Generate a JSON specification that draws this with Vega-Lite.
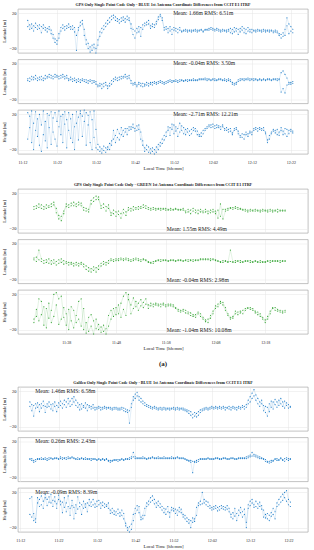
{
"$schema":"https://vega.github.io/schema/vega-lite/v6.json",
"padding":{"left":0,"top":3,"right":0,"bottom":0},
"background":"white",
"config":{
"font":"Liberation Serif",
"view":{"stroke":"#9a9a9a","strokeWidth":0.6},
"axis":{"ticks":false,"domain":false,"grid":true,"gridColor":"#e4e4e4","gridWidth":0.5,"labelOverlap":false,"labelFont":"Liberation Serif","titleFont":"Liberation Serif","labelColor":"#222","titleColor":"#222","titleFontWeight":"normal"},
"axisX":{"labelFontSize":4,"labelPadding":6,"titlePadding":1,"titleFontSize":4.8},
"axisY":{"labelFontSize":4.5,"labelPadding":2,"titleFontSize":4.5,"titlePadding":1,"minExtent":11,"maxExtent":11},
"title":{"font":"Liberation Serif","fontSize":4.1,"fontWeight":"bold","offset":1.5,"frame":"group","color":"#222"},
"point":{"filled":true,"size":1.4,"opacity":0.9,"clip":true},
"line":{"strokeWidth":0.3,"opacity":0.4,"clip":true},
"text":{"font":"Liberation Serif","fontSize":5.6,"align":"left","baseline":"middle","color":"#222"}
},
"datasets":{
"g1":[
{"t":14.5,"a":5,"A":12,"b":3,"B":1,"c":22,"C":-8},
{"t":15,"a":7,"A":2,"b":4,"B":0,"c":18,"C":5},
{"t":15.5,"a":3,"A":8,"b":2,"B":6,"c":-12,"C":24},
{"t":16,"a":6,"A":0,"b":5,"B":2,"c":10,"C":-20},
{"t":16.5,"a":4,"A":9,"b":3,"B":7,"c":23,"C":2},
{"t":17,"a":2,"A":6,"b":1,"B":4,"c":-5,"C":15},
{"t":17.5,"a":7,"A":3,"b":5,"B":2,"c":20,"C":-15},
{"t":18,"a":5,"A":-2,"b":2,"B":6,"c":8,"C":-22},
{"t":18.5,"a":3,"A":7,"b":4,"B":1,"c":24,"C":-3},
{"t":19,"a":1,"A":4,"b":3,"B":7,"c":-10,"C":12},
{"t":19.5,"a":3,"A":-1,"b":6,"B":4,"c":21,"C":-18},
{"t":20,"a":2,"A":5,"b":5,"B":8,"c":5,"C":19},
{"t":20.5,"a":-3,"A":1,"b":4,"B":7,"c":-14,"C":23},
{"t":21,"a":-8,"A":-4,"b":6,"B":3,"c":16,"C":0},
{"t":21.5,"a":-13,"A":-9,"b":8,"B":5,"c":22,"C":-8},
{"t":22,"a":-15,"A":-11,"b":5,"B":7,"c":12,"C":-16},
{"t":22.5,"a":-8,"A":-3,"b":6,"B":3,"c":24,"C":6},
{"t":23,"a":0,"A":4,"b":7,"B":4,"c":-3,"C":18},
{"t":23.5,"a":3,"A":7,"b":5,"B":8,"c":20,"C":-12},
{"t":24,"a":5,"A":1,"b":6,"B":3,"c":9,"C":23},
{"t":24.5,"a":6,"A":3,"b":4,"B":7,"c":-18,"C":14},
{"t":25,"a":4,"A":8,"b":3,"B":1,"c":22,"C":2},
{"t":25.5,"a":5,"A":2,"b":2,"B":5,"c":15,"C":-7},
{"t":26,"a":2,"A":6,"b":3,"B":0,"c":-12,"C":20},
{"t":26.5,"a":4,"A":-1,"b":1,"B":4,"c":6,"C":-20},
{"t":27,"a":-5,"A":-22,"b":2,"B":-1,"c":23,"C":10},
{"t":27.5,"a":1,"A":4,"b":0,"B":3,"c":-9,"C":17},
{"t":28,"a":10,"A":6,"b":2,"B":-1,"c":21,"C":24},
{"t":28.5,"a":12,"A":8,"b":1,"B":3,"c":18,"C":-5},
{"t":29,"a":-5,"A":2,"b":0,"B":2,"c":25,"C":12},
{"t":29.5,"a":-15,"A":-10,"b":-1,"B":2,"c":-15,"C":22},
{"t":30,"a":-20,"A":-14,"b":1,"B":-2,"c":8,"C":19},
{"t":30.5,"a":-18,"A":-24,"b":0,"B":2,"c":23,"C":-12},
{"t":31,"a":-22,"A":-16,"b":-2,"B":1,"c":14,"C":-20},
{"t":31.5,"a":-15,"A":-19,"b":1,"B":-1,"c":-6,"C":24},
{"t":32,"a":-20,"A":-25,"b":-3,"B":0,"c":-18,"C":3},
{"t":32.5,"a":-10,"A":-16,"b":-4,"B":-6,"c":-20,"C":-14},
{"t":33,"a":-6,"A":-1,"b":-5,"B":-2,"c":-22,"C":-17},
{"t":33.5,"a":-2,"A":3,"b":-3,"B":-8,"c":-19,"C":-24},
{"t":34,"a":2,"A":6,"b":-6,"B":-2,"c":-21,"C":-16},
{"t":34.5,"a":5,"A":9,"b":-4,"B":-1,"c":-23,"C":-18},
{"t":35,"a":8,"A":12,"b":-5,"B":-8,"c":-17,"C":-20},
{"t":35.5,"a":10,"A":15,"b":-2,"B":-5,"c":-20,"C":-13},
{"t":36,"a":13,"A":17,"b":1,"B":-3,"c":-10,"C":-15},
{"t":36.5,"a":15,"A":18,"b":3,"B":0,"c":-8,"C":2},
{"t":37,"a":12,"A":16,"b":2,"B":5,"c":-4,"C":-12},
{"t":37.5,"a":11,"A":14,"b":4,"B":1,"c":3,"C":-6},
{"t":38,"a":13,"A":9,"b":5,"B":2,"c":-2,"C":-9},
{"t":38.5,"a":15,"A":11,"b":3,"B":6,"c":5,"C":-3},
{"t":39,"a":12,"A":16,"b":6,"B":4,"c":-5,"C":2},
{"t":39.5,"a":14,"A":10,"b":5,"B":8,"c":0,"C":4},
{"t":40,"a":17,"A":13,"b":6,"B":3,"c":4,"C":-3},
{"t":40.5,"a":12,"A":15,"b":4,"B":7,"c":2,"C":6},
{"t":41,"a":8,"A":3,"b":1,"B":-2,"c":6,"C":3},
{"t":41.5,"a":2,"A":-4,"b":-2,"B":-4,"c":5,"C":9},
{"t":42,"a":0,"A":-8,"b":-3,"B":-1,"c":4,"C":1},
{"t":42.5,"a":3,"A":-2,"b":-4,"B":-6,"c":7,"C":2},
{"t":43,"a":-1,"A":5,"b":-3,"B":-1,"c":3,"C":8},
{"t":43.5,"a":4,"A":-6,"b":-5,"B":-2,"c":-8,"C":0},
{"t":44,"a":2,"A":7,"b":-2,"B":-6,"c":-15,"C":-10},
{"t":44.5,"a":6,"A":9,"b":-3,"B":-5,"c":-18,"C":-22},
{"t":45,"a":10,"A":7,"b":-4,"B":-1,"c":-20,"C":-15},
{"t":45.5,"a":12,"A":8,"b":-2,"B":-5,"c":-23,"C":-17},
{"t":46,"a":6,"A":3,"b":-3,"B":-1,"c":-19,"C":-24},
{"t":46.5,"a":5,"A":8,"b":-1,"B":-4,"c":-22,"C":-18},
{"t":47,"a":4,"A":7,"b":-2,"B":0,"c":-25,"C":-20},
{"t":47.5,"a":8,"A":11,"b":-1,"B":-3,"c":-17,"C":-23},
{"t":48,"a":13,"A":16,"b":0,"B":-2,"c":-20,"C":-14},
{"t":48.5,"a":17,"A":19,"b":-1,"B":1,"c":-12,"C":-16},
{"t":49,"a":12,"A":15,"b":-2,"B":0,"c":-8,"C":-13},
{"t":49.5,"a":4,"A":1,"b":-1,"B":-3,"c":-4,"C":-9},
{"t":50,"a":2,"A":5,"b":0,"B":-2,"c":0,"C":-5},
{"t":50.5,"a":3,"A":-2,"b":1,"B":-1,"c":2,"C":6},
{"t":51,"a":0,"A":5,"b":0,"B":2,"c":5,"C":-4},
{"t":51.5,"a":2,"A":-4,"b":-1,"B":1,"c":3,"C":9},
{"t":52,"a":4,"A":1,"b":1,"B":0,"c":8,"C":-2},
{"t":52.5,"a":0,"A":3,"b":0,"B":2,"c":1,"C":6},
{"t":53,"a":-2,"A":2,"b":1,"B":-1,"c":4,"C":-5},
{"t":53.5,"a":1,"A":4,"b":2,"B":0,"c":10,"C":0},
{"t":54,"a":0,"A":-1,"b":1,"B":2,"c":2,"C":7},
{"t":54.5,"a":1,"A":0,"b":0,"B":1,"c":-2,"C":5},
{"t":55,"a":0,"A":2,"b":1,"B":2,"c":3,"C":-3},
{"t":55.5,"a":1,"A":-1,"b":2,"B":0,"c":0,"C":4},
{"t":56,"a":0,"A":1,"b":1,"B":2,"c":-4,"C":1},
{"t":56.5,"a":-1,"A":1,"b":2,"B":1,"c":-2,"C":3},
{"t":57,"a":1,"A":0,"b":1,"B":3,"c":2,"C":5},
{"t":57.5,"a":0,"A":2,"b":2,"B":1,"c":4,"C":1},
{"t":58,"a":1,"A":-1,"b":1,"B":2,"c":1,"C":-3},
{"t":58.5,"a":0,"A":1,"b":2,"B":3,"c":-3,"C":-5},
{"t":59,"a":1,"A":2,"b":2,"B":3,"c":-5,"C":-1},
{"t":59.5,"a":0,"A":-1,"b":3,"B":2,"c":-2,"C":2},
{"t":60,"a":1,"A":2,"b":2,"B":4,"c":2,"C":4},
{"t":60.5,"a":2,"A":1,"b":3,"B":1,"c":4,"C":6},
{"t":61,"a":3,"A":1,"b":2,"B":3,"c":6,"C":8},
{"t":61.5,"a":2,"A":4,"b":1,"B":2,"c":8,"C":5},
{"t":62,"a":1,"A":3,"b":2,"B":3,"c":9,"C":6},
{"t":62.5,"a":2,"A":0,"b":1,"B":3,"c":7,"C":4},
{"t":63,"a":1,"A":3,"b":2,"B":1,"c":8,"C":5},
{"t":63.5,"a":0,"A":2,"b":2,"B":3,"c":5,"C":7},
{"t":64,"a":1,"A":-1,"b":3,"B":2,"c":3,"C":6},
{"t":64.5,"a":0,"A":2,"b":2,"B":1,"c":6,"C":8},
{"t":65,"a":1,"A":0,"b":1,"B":3,"c":4,"C":2},
{"t":65.5,"a":-1,"A":1,"b":2,"B":0,"c":2,"C":5},
{"t":66,"a":0,"A":2,"b":1,"B":3,"c":3,"C":0},
{"t":66.5,"a":3,"A":-2,"b":2,"B":0,"c":4,"C":1},
{"t":67,"a":-3,"A":2,"b":-1,"B":-3,"c":-1,"C":-3},
{"t":67.5,"a":4,"A":-1,"b":-2,"B":-4,"c":2,"C":4},
{"t":68,"a":0,"A":3,"b":-3,"B":-1,"c":3,"C":5},
{"t":68.5,"a":-4,"A":2,"b":0,"B":2,"c":1,"C":-2},
{"t":69,"a":3,"A":-1,"b":1,"B":3,"c":-4,"C":-6},
{"t":69.5,"a":1,"A":5,"b":2,"B":3,"c":-6,"C":-2},
{"t":70,"a":-2,"A":3,"b":3,"B":1,"c":-8,"C":-3},
{"t":70.5,"a":2,"A":-3,"b":2,"B":3,"c":-3,"C":0},
{"t":71,"a":4,"A":0,"b":2,"B":4,"c":-2,"C":-5},
{"t":71.5,"a":-1,"A":2,"b":3,"B":1,"c":-1,"C":1},
{"t":72,"a":2,"A":-2,"b":2,"B":3,"c":0,"C":-3},
{"t":72.5,"a":0,"A":1,"b":1,"B":3,"c":2,"C":4},
{"t":73,"a":1,"A":-1,"b":3,"B":2,"c":3,"C":5},
{"t":73.5,"a":0,"A":2,"b":2,"B":1,"c":1,"C":4},
{"t":74,"a":1,"A":0,"b":2,"B":3,"c":3,"C":5},
{"t":74.5,"a":-1,"A":1,"b":1,"B":2,"c":4,"C":2},
{"t":75,"a":0,"A":2,"b":3,"B":2,"c":2,"C":5},
{"t":75.5,"a":1,"A":-1,"b":2,"B":1,"c":0,"C":-2},
{"t":76,"a":0,"A":1,"b":2,"B":3,"c":-9,"C":-12},
{"t":76.5,"a":-1,"A":1,"b":3,"B":2,"c":-8,"C":-4},
{"t":77,"a":1,"A":0,"b":2,"B":1,"c":-2,"C":0},
{"t":77.5,"a":0,"A":-2,"b":3,"B":2,"c":1,"C":3},
{"t":78,"a":-1,"A":1,"b":2,"B":3,"c":2,"C":-1},
{"t":78.5,"a":-2,"A":0,"b":3,"B":1,"c":-3,"C":3},
{"t":79,"a":-5,"A":-3,"b":2,"B":3,"c":0,"C":-4},
{"t":79.5,"a":-8,"A":-4,"b":10,"B":-12,"c":2,"C":5},
{"t":80,"a":-6,"A":-2,"b":12,"B":-8,"c":-3,"C":1},
{"t":80.5,"a":2,"A":-5,"b":8,"B":-13,"c":4,"C":-2},
{"t":81,"a":15,"A":6,"b":4,"B":-4,"c":3,"C":-5},
{"t":81.5,"a":8,"A":-3,"b":-1,"B":-3,"c":-2,"C":2},
{"t":82,"a":5,"A":0,"b":-3,"B":-1,"c":1,"C":3},
{"t":82.5,"a":2,"A":-2,"b":-2,"B":0,"c":-1,"C":1}
],
"g2":[
{"t":31.5,"a":5,"A":2,"b":2,"B":4,"c":-8,"C":-12},
{"t":32,"a":6,"A":3,"b":0,"B":5,"c":-5,"C":3},
{"t":32.5,"a":4,"A":8,"b":13,"B":2,"c":15,"C":-10},
{"t":33,"a":7,"A":3,"b":3,"B":0,"c":12,"C":-3},
{"t":33.5,"a":5,"A":2,"b":1,"B":-2,"c":-15,"C":6},
{"t":34,"a":3,"A":7,"b":2,"B":-1,"c":4,"C":-18},
{"t":34.5,"a":6,"A":4,"b":-2,"B":3,"c":-7,"C":10},
{"t":35,"a":8,"A":5,"b":1,"B":-3,"c":2,"C":-12},
{"t":35.5,"a":10,"A":7,"b":-2,"B":2,"c":20,"C":-5},
{"t":36,"a":-2,"A":3,"b":0,"B":-4,"c":22,"C":8},
{"t":36.5,"a":-9,"A":-5,"b":2,"B":-2,"c":15,"C":-14},
{"t":37,"a":-6,"A":-11,"b":-1,"B":3,"c":18,"C":-8},
{"t":37.5,"a":0,"A":-3,"b":1,"B":-3,"c":-6,"C":5},
{"t":38,"a":5,"A":8,"b":-2,"B":0,"c":-15,"C":-2},
{"t":38.5,"a":7,"A":4,"b":-1,"B":-4,"c":3,"C":-20},
{"t":39,"a":9,"A":6,"b":-3,"B":-1,"c":-10,"C":6},
{"t":39.5,"a":6,"A":10,"b":-2,"B":-5,"c":-18,"C":2},
{"t":40,"a":8,"A":5,"b":-4,"B":-1,"c":-4,"C":-12},
{"t":40.5,"a":10,"A":7,"b":-2,"B":-5,"c":12,"C":-8},
{"t":41,"a":6,"A":9,"b":-3,"B":-1,"c":15,"C":-16},
{"t":41.5,"a":1,"A":4,"b":-6,"B":-3,"c":-20,"C":4},
{"t":42,"a":0,"A":3,"b":-9,"B":-5,"c":-12,"C":-24},
{"t":42.5,"a":2,"A":-1,"b":-11,"B":-7,"c":-22,"C":-6},
{"t":43,"a":12,"A":8,"b":-8,"B":-12,"c":-16,"C":-3},
{"t":43.5,"a":15,"A":11,"b":-10,"B":-6,"c":-25,"C":-10},
{"t":44,"a":17,"A":13,"b":-7,"B":-12,"c":-8,"C":-19},
{"t":44.5,"a":13,"A":16,"b":-9,"B":-5,"c":-20,"C":-14},
{"t":45,"a":6,"A":3,"b":-5,"B":-2,"c":-17,"C":-23},
{"t":45.5,"a":8,"A":4,"b":-3,"B":0,"c":-22,"C":-15},
{"t":46,"a":5,"A":0,"b":-1,"B":-4,"c":-19,"C":-25},
{"t":46.5,"a":3,"A":7,"b":-2,"B":1,"c":-4,"C":-16},
{"t":47,"a":-2,"A":-5,"b":1,"B":3,"c":2,"C":-8},
{"t":47.5,"a":-3,"A":1,"b":2,"B":0,"c":-5,"C":4},
{"t":48,"a":-6,"A":-1,"b":3,"B":1,"c":5,"C":-3},
{"t":48.5,"a":0,"A":-4,"b":1,"B":3,"c":-2,"C":8},
{"t":49,"a":-3,"A":-8,"b":2,"B":4,"c":10,"C":-6},
{"t":49.5,"a":2,"A":-2,"b":3,"B":1,"c":18,"C":3},
{"t":50,"a":-1,"A":-5,"b":2,"B":4,"c":22,"C":-4},
{"t":50.5,"a":1,"A":4,"b":1,"B":3,"c":14,"C":20},
{"t":51,"a":3,"A":0,"b":2,"B":0,"c":8,"C":-2},
{"t":51.5,"a":1,"A":5,"b":3,"B":1,"c":16,"C":4},
{"t":52,"a":4,"A":2,"b":2,"B":4,"c":6,"C":12},
{"t":52.5,"a":2,"A":5,"b":1,"B":3,"c":10,"C":2},
{"t":53,"a":5,"A":3,"b":2,"B":0,"c":14,"C":7},
{"t":53.5,"a":7,"A":4,"b":3,"B":2,"c":5,"C":11},
{"t":54,"a":3,"A":6,"b":1,"B":2,"c":9,"C":15},
{"t":54.5,"a":2,"A":4,"b":-1,"B":0,"c":8,"C":4},
{"t":55,"a":1,"A":3,"b":-1,"B":-2,"c":7,"C":10},
{"t":55.5,"a":2,"A":4,"b":0,"B":-2,"c":9,"C":6},
{"t":56,"a":3,"A":1,"b":0,"B":1,"c":8,"C":10},
{"t":56.5,"a":2,"A":3,"b":1,"B":2,"c":7,"C":9},
{"t":57,"a":1,"A":3,"b":0,"B":2,"c":9,"C":6},
{"t":57.5,"a":2,"A":3,"b":1,"B":2,"c":8,"C":10},
{"t":58,"a":3,"A":1,"b":2,"B":1,"c":6,"C":8},
{"t":58.5,"a":2,"A":1,"b":1,"B":0,"c":7,"C":9},
{"t":59,"a":1,"A":3,"b":1,"B":2,"c":9,"C":7},
{"t":59.5,"a":2,"A":1,"b":2,"B":1,"c":8,"C":6},
{"t":60,"a":3,"A":2,"b":1,"B":0,"c":5,"C":4},
{"t":60.5,"a":1,"A":2,"b":1,"B":2,"c":3,"C":1},
{"t":61,"a":2,"A":1,"b":2,"B":1,"c":2,"C":0},
{"t":61.5,"a":1,"A":3,"b":1,"B":0,"c":1,"C":3},
{"t":62,"a":0,"A":-2,"b":1,"B":2,"c":-1,"C":2},
{"t":62.5,"a":2,"A":-1,"b":0,"B":2,"c":-2,"C":0},
{"t":63,"a":-3,"A":1,"b":1,"B":2,"c":-4,"C":-1},
{"t":63.5,"a":0,"A":3,"b":2,"B":0,"c":-5,"C":-3},
{"t":64,"a":-2,"A":1,"b":1,"B":2,"c":-3,"C":-6},
{"t":64.5,"a":1,"A":-3,"b":2,"B":1,"c":0,"C":-2},
{"t":65,"a":-1,"A":2,"b":3,"B":2,"c":-2,"C":-5},
{"t":65.5,"a":0,"A":-2,"b":2,"B":3,"c":-6,"C":-8},
{"t":66,"a":2,"A":-1,"b":3,"B":2,"c":-9,"C":-11},
{"t":66.5,"a":-3,"A":0,"b":2,"B":3,"c":-12,"C":-8},
{"t":67,"a":1,"A":-2,"b":3,"B":1,"c":-4,"C":-7},
{"t":67.5,"a":-1,"A":2,"b":2,"B":3,"c":1,"C":-2},
{"t":68,"a":0,"A":-3,"b":1,"B":2,"c":4,"C":7},
{"t":68.5,"a":-8,"A":1,"b":0,"B":1,"c":9,"C":6},
{"t":69,"a":8,"A":-6,"b":0,"B":-1,"c":12,"C":10},
{"t":69.5,"a":-9,"A":2,"b":1,"B":-1,"c":8,"C":11},
{"t":70,"a":0,"A":2,"b":0,"B":1,"c":2,"C":5},
{"t":70.5,"a":1,"A":3,"b":-1,"B":0,"c":-4,"C":-2},
{"t":71,"a":3,"A":4,"b":13,"B":0,"c":-8,"C":-6},
{"t":71.5,"a":4,"A":2,"b":0,"B":-1,"c":-5,"C":-7},
{"t":72,"a":3,"A":5,"b":1,"B":-1,"c":-2,"C":1},
{"t":72.5,"a":4,"A":2,"b":0,"B":1,"c":0,"C":-3},
{"t":73,"a":2,"A":3,"b":-1,"B":1,"c":1,"C":-1},
{"t":73.5,"a":1,"A":2,"b":0,"B":-1,"c":-2,"C":2},
{"t":74,"a":0,"A":2,"b":1,"B":0,"c":2,"C":4},
{"t":74.5,"a":1,"A":-1,"b":0,"B":1,"c":4,"C":5},
{"t":75,"a":0,"A":2,"b":-1,"B":1,"c":5,"C":3},
{"t":75.5,"a":1,"A":0,"b":0,"B":-1,"c":2,"C":4},
{"t":76,"a":2,"A":0,"b":1,"B":0,"c":1,"C":-1},
{"t":76.5,"a":0,"A":1,"b":0,"B":-1,"c":-3,"C":0},
{"t":77,"a":1,"A":-1,"b":-1,"B":1,"c":-2,"C":-5},
{"t":77.5,"a":0,"A":2,"b":0,"B":-1,"c":-8,"C":-6},
{"t":78,"a":1,"A":0,"b":-1,"B":0,"c":-12,"C":-9},
{"t":78.5,"a":-1,"A":1,"b":0,"B":1,"c":-5,"C":-8},
{"t":79,"a":0,"A":2,"b":1,"B":-1,"c":1,"C":-2},
{"t":79.5,"a":1,"A":-1,"b":0,"B":1,"c":4,"C":5},
{"t":80,"a":0,"A":1,"b":1,"B":0,"c":5,"C":2},
{"t":80.5,"a":2,"A":-1,"b":0,"B":1,"c":3,"C":1},
{"t":81,"a":0,"A":1,"b":1,"B":-1,"c":0,"C":2},
{"t":81.5,"a":1,"A":0,"b":0,"B":1,"c":-1,"C":1},
{"t":82,"a":0,"A":1,"b":1,"B":0,"c":0,"C":2}
],
"g3":[
{"t":14.5,"a":3,"A":8,"b":0,"B":1,"c":13,"C":-5},
{"t":15,"a":-2,"A":5,"b":-1,"B":1,"c":15,"C":-8},
{"t":15.5,"a":4,"A":-8,"b":-3,"B":-1,"c":-12,"C":-4},
{"t":16,"a":6,"A":1,"b":-2,"B":0,"c":-10,"C":-14},
{"t":16.5,"a":2,"A":7,"b":0,"B":1,"c":8,"C":14},
{"t":17,"a":5,"A":-3,"b":1,"B":0,"c":12,"C":4},
{"t":17.5,"a":1,"A":6,"b":0,"B":2,"c":16,"C":6},
{"t":18,"a":4,"A":9,"b":1,"B":0,"c":10,"C":2},
{"t":18.5,"a":-4,"A":3,"b":0,"B":2,"c":14,"C":18},
{"t":19,"a":6,"A":2,"b":1,"B":-1,"c":5,"C":12},
{"t":19.5,"a":3,"A":8,"b":2,"B":0,"c":9,"C":15},
{"t":20,"a":0,"A":5,"b":1,"B":2,"c":18,"C":8},
{"t":20.5,"a":6,"A":-2,"b":0,"B":1,"c":4,"C":11},
{"t":21,"a":3,"A":8,"b":2,"B":1,"c":10,"C":15},
{"t":21.5,"a":-3,"A":4,"b":1,"B":2,"c":7,"C":2},
{"t":22,"a":7,"A":2,"b":0,"B":1,"c":12,"C":17},
{"t":22.5,"a":4,"A":9,"b":1,"B":3,"c":6,"C":10},
{"t":23,"a":1,"A":6,"b":2,"B":0,"c":9,"C":-3},
{"t":23.5,"a":5,"A":10,"b":1,"B":2,"c":3,"C":14},
{"t":24,"a":2,"A":8,"b":0,"B":2,"c":8,"C":-2},
{"t":24.5,"a":6,"A":12,"b":1,"B":3,"c":16,"C":4},
{"t":25,"a":9,"A":3,"b":2,"B":1,"c":2,"C":-6},
{"t":25.5,"a":12,"A":5,"b":3,"B":2,"c":5,"C":11},
{"t":26,"a":8,"A":14,"b":2,"B":1,"c":-10,"C":3},
{"t":26.5,"a":4,"A":10,"b":1,"B":0,"c":6,"C":-4},
{"t":27,"a":2,"A":7,"b":0,"B":2,"c":1,"C":15},
{"t":27.5,"a":5,"A":-1,"b":1,"B":0,"c":4,"C":8},
{"t":28,"a":0,"A":6,"b":2,"B":1,"c":-5,"C":6},
{"t":28.5,"a":4,"A":2,"b":1,"B":0,"c":10,"C":2},
{"t":29,"a":1,"A":7,"b":0,"B":2,"c":3,"C":7},
{"t":29.5,"a":5,"A":-2,"b":1,"B":0,"c":8,"C":-2},
{"t":30,"a":2,"A":4,"b":0,"B":1,"c":5,"C":12},
{"t":30.5,"a":3,"A":0,"b":1,"B":-1,"c":9,"C":4},
{"t":31,"a":1,"A":5,"b":0,"B":1,"c":12,"C":6},
{"t":31.5,"a":2,"A":-1,"b":1,"B":0,"c":7,"C":3},
{"t":32,"a":0,"A":2,"b":-1,"B":0,"c":4,"C":10},
{"t":32.5,"a":1,"A":3,"b":0,"B":1,"c":6,"C":11},
{"t":33,"a":2,"A":-1,"b":-1,"B":0,"c":8,"C":2},
{"t":33.5,"a":0,"A":2,"b":0,"B":1,"c":5,"C":9},
{"t":34,"a":1,"A":3,"b":-1,"B":0,"c":3,"C":7},
{"t":34.5,"a":2,"A":0,"b":0,"B":1,"c":6,"C":4},
{"t":35,"a":1,"A":2,"b":-2,"B":-1,"c":2,"C":8},
{"t":35.5,"a":0,"A":2,"b":-3,"B":-1,"c":0,"C":-4},
{"t":36,"a":1,"A":-1,"b":-1,"B":-2,"c":-3,"C":2},
{"t":36.5,"a":2,"A":0,"b":0,"B":-1,"c":-5,"C":-1},
{"t":37,"a":0,"A":2,"b":-1,"B":0,"c":-2,"C":-6},
{"t":37.5,"a":1,"A":-1,"b":0,"B":-2,"c":1,"C":-4},
{"t":38,"a":-1,"A":1,"b":-1,"B":0,"c":-3,"C":-7},
{"t":38.5,"a":0,"A":2,"b":0,"B":1,"c":-6,"C":0},
{"t":39,"a":-2,"A":1,"b":-1,"B":0,"c":-10,"C":-4},
{"t":39.5,"a":-3,"A":0,"b":0,"B":1,"c":-15,"C":-18},
{"t":40,"a":-1,"A":-4,"b":1,"B":0,"c":-20,"C":-23},
{"t":40.5,"a":-16,"A":-2,"b":0,"B":2,"c":-25,"C":-19},
{"t":41,"a":2,"A":6,"b":3,"B":1,"c":-22,"C":-16},
{"t":41.5,"a":10,"A":14,"b":8,"B":3,"c":-12,"C":-5},
{"t":42,"a":17,"A":12,"b":3,"B":1,"c":-4,"C":2},
{"t":42.5,"a":19,"A":15,"b":2,"B":1,"c":0,"C":5},
{"t":43,"a":14,"A":10,"b":1,"B":2,"c":4,"C":-3},
{"t":43.5,"a":12,"A":8,"b":2,"B":1,"c":-8,"C":-11},
{"t":44,"a":9,"A":6,"b":1,"B":3,"c":-10,"C":-6},
{"t":44.5,"a":7,"A":4,"b":2,"B":1,"c":-6,"C":2},
{"t":45,"a":5,"A":3,"b":1,"B":0,"c":4,"C":8},
{"t":45.5,"a":4,"A":2,"b":2,"B":1,"c":10,"C":6},
{"t":46,"a":3,"A":1,"b":1,"B":2,"c":14,"C":9},
{"t":46.5,"a":2,"A":0,"b":2,"B":3,"c":16,"C":11},
{"t":47,"a":1,"A":3,"b":1,"B":2,"c":12,"C":7},
{"t":47.5,"a":0,"A":2,"b":2,"B":1,"c":8,"C":3},
{"t":48,"a":1,"A":-1,"b":1,"B":3,"c":5,"C":10},
{"t":48.5,"a":0,"A":2,"b":2,"B":1,"c":3,"C":7},
{"t":49,"a":-1,"A":1,"b":1,"B":2,"c":0,"C":4},
{"t":49.5,"a":0,"A":2,"b":3,"B":1,"c":-3,"C":2},
{"t":50,"a":1,"A":-1,"b":2,"B":1,"c":1,"C":-5},
{"t":50.5,"a":0,"A":1,"b":1,"B":2,"c":4,"C":-2},
{"t":51,"a":-1,"A":1,"b":2,"B":1,"c":-8,"C":-3},
{"t":51.5,"a":1,"A":0,"b":1,"B":3,"c":0,"C":3},
{"t":52,"a":0,"A":2,"b":2,"B":1,"c":2,"C":-1},
{"t":52.5,"a":-1,"A":1,"b":1,"B":2,"c":-4,"C":1},
{"t":53,"a":0,"A":2,"b":3,"B":2,"c":0,"C":-6},
{"t":53.5,"a":1,"A":-1,"b":2,"B":1,"c":-2,"C":3},
{"t":54,"a":0,"A":1,"b":1,"B":2,"c":1,"C":-3},
{"t":54.5,"a":-1,"A":1,"b":2,"B":1,"c":-5,"C":-8},
{"t":55,"a":0,"A":-2,"b":1,"B":0,"c":-10,"C":-6},
{"t":55.5,"a":-3,"A":-1,"b":0,"B":-1,"c":-13,"C":-9},
{"t":56,"a":-5,"A":-2,"b":-2,"B":-1,"c":-15,"C":-11},
{"t":56.5,"a":-7,"A":-3,"b":-3,"B":-1,"c":-12,"C":-20},
{"t":57,"a":-10,"A":-6,"b":-15,"B":-2,"c":-14,"C":-9},
{"t":57.5,"a":-8,"A":-4,"b":-2,"B":-3,"c":-10,"C":-13},
{"t":58,"a":-5,"A":-9,"b":-1,"B":-3,"c":-6,"C":3},
{"t":58.5,"a":-3,"A":-7,"b":0,"B":-2,"c":5,"C":8},
{"t":59,"a":-1,"A":-4,"b":1,"B":0,"c":10,"C":6},
{"t":59.5,"a":0,"A":-2,"b":0,"B":1,"c":20,"C":7},
{"t":60,"a":1,"A":-1,"b":1,"B":0,"c":8,"C":12},
{"t":60.5,"a":0,"A":2,"b":0,"B":1,"c":6,"C":10},
{"t":61,"a":1,"A":-1,"b":1,"B":2,"c":4,"C":9},
{"t":61.5,"a":0,"A":2,"b":0,"B":1,"c":2,"C":5},
{"t":62,"a":1,"A":3,"b":1,"B":0,"c":3,"C":0},
{"t":62.5,"a":2,"A":0,"b":0,"B":1,"c":1,"C":4},
{"t":63,"a":1,"A":3,"b":1,"B":2,"c":5,"C":2},
{"t":63.5,"a":2,"A":0,"b":2,"B":1,"c":3,"C":-1},
{"t":64,"a":1,"A":3,"b":1,"B":0,"c":0,"C":4},
{"t":64.5,"a":0,"A":2,"b":0,"B":1,"c":2,"C":5},
{"t":65,"a":1,"A":3,"b":1,"B":2,"c":4,"C":1},
{"t":65.5,"a":2,"A":-1,"b":2,"B":1,"c":3,"C":0},
{"t":66,"a":1,"A":2,"b":1,"B":0,"c":1,"C":5},
{"t":66.5,"a":0,"A":3,"b":0,"B":1,"c":-2,"C":2},
{"t":67,"a":2,"A":-1,"b":1,"B":2,"c":-5,"C":-8},
{"t":67.5,"a":1,"A":3,"b":2,"B":1,"c":-3,"C":-10},
{"t":68,"a":0,"A":2,"b":1,"B":0,"c":-7,"C":2},
{"t":68.5,"a":2,"A":-1,"b":0,"B":1,"c":-4,"C":-12},
{"t":69,"a":1,"A":3,"b":1,"B":2,"c":0,"C":-6},
{"t":69.5,"a":0,"A":2,"b":2,"B":1,"c":-3,"C":3},
{"t":70,"a":2,"A":4,"b":1,"B":2,"c":-8,"C":-2},
{"t":70.5,"a":3,"A":0,"b":2,"B":1,"c":-5,"C":1},
{"t":71,"a":5,"A":2,"b":1,"B":3,"c":-20,"C":-14},
{"t":71.5,"a":10,"A":6,"b":2,"B":4,"c":2,"C":6},
{"t":72,"a":14,"A":8,"b":5,"B":3,"c":5,"C":10},
{"t":72.5,"a":18,"A":12,"b":8,"B":4,"c":8,"C":12},
{"t":73,"a":22,"A":15,"b":4,"B":6,"c":6,"C":3},
{"t":73.5,"a":16,"A":10,"b":3,"B":5,"c":10,"C":4},
{"t":74,"a":12,"A":6,"b":2,"B":4,"c":7,"C":2},
{"t":74.5,"a":8,"A":3,"b":3,"B":1,"c":4,"C":9},
{"t":75,"a":6,"A":10,"b":2,"B":1,"c":5,"C":1},
{"t":75.5,"a":4,"A":-2,"b":1,"B":0,"c":-8,"C":0},
{"t":76,"a":-4,"A":3,"b":0,"B":-2,"c":-5,"C":-9},
{"t":76.5,"a":-8,"A":2,"b":-2,"B":-3,"c":-10,"C":-4},
{"t":77,"a":6,"A":-3,"b":-4,"B":-2,"c":-12,"C":-6},
{"t":77.5,"a":2,"A":9,"b":-3,"B":-1,"c":-7,"C":-3},
{"t":78,"a":8,"A":0,"b":-1,"B":-2,"c":-5,"C":2},
{"t":78.5,"a":5,"A":11,"b":0,"B":1,"c":-10,"C":-2},
{"t":79,"a":2,"A":8,"b":1,"B":-1,"c":8,"C":4},
{"t":79.5,"a":10,"A":4,"b":-1,"B":0,"c":12,"C":6},
{"t":80,"a":6,"A":12,"b":1,"B":2,"c":15,"C":9},
{"t":80.5,"a":3,"A":8,"b":0,"B":-1,"c":18,"C":11},
{"t":81,"a":9,"A":1,"b":-2,"B":1,"c":14,"C":20},
{"t":81.5,"a":4,"A":7,"b":0,"B":2,"c":10,"C":22},
{"t":82,"a":1,"A":5,"b":-1,"B":1,"c":6,"C":12},
{"t":82.5,"a":3,"A":2,"b":1,"B":0,"c":4,"C":9}
]
},
"spacing":12,
"vconcat":[
{"spacing":4.5,"vconcat":[
{"title":"GPS Only Single Point Code Only - BLUE 1st Antenna Coordinate Differences from CCIT E1 ITRF","width":290,"height":44,"data":{"name":"g1"},"layer":[
{"transform":[{"fold":["a","A"],"as":["k","val"]}],"mark":{"type":"line","color":"#0a72c4"},"encoding":{"x":{"field":"t","type":"quantitative","scale":{"domain":[12,86.4],"nice":false},"axis":{"values":[12,22,32,42,52,62,72,82],"labels":false,"title":null}},"y":{"field":"val","type":"quantitative","scale":{"domain":[-25,25],"nice":false},"axis":{"values":[-20,-10,0,10,20],"title":"Latitude [m]"}},"detail":{"field":"k"}}},
{"transform":[{"fold":["a","A"],"as":["k","val"]}],"mark":{"type":"point","color":"#0a72c4"},"encoding":{"x":{"field":"t","type":"quantitative"},"y":{"field":"val","type":"quantitative"}}},
{"data":{"values":[{"t":51.8,"v":20.5,"s":"Mean: 1.66m  RMS: 6.51m"}]},"mark":"text","encoding":{"x":{"field":"t","type":"quantitative"},"y":{"field":"v","type":"quantitative"},"text":{"field":"s"}}}
]},
{"width":290,"height":44,"data":{"name":"g1"},"layer":[
{"transform":[{"fold":["b","B"],"as":["k","val"]}],"mark":{"type":"line","color":"#0a72c4"},"encoding":{"x":{"field":"t","type":"quantitative","scale":{"domain":[12,86.4],"nice":false},"axis":{"values":[12,22,32,42,52,62,72,82],"labels":false,"title":null}},"y":{"field":"val","type":"quantitative","scale":{"domain":[-25,25],"nice":false},"axis":{"values":[-20,-10,0,10,20],"title":"Longitude [m]"}},"detail":{"field":"k"}}},
{"transform":[{"fold":["b","B"],"as":["k","val"]}],"mark":{"type":"point","color":"#0a72c4"},"encoding":{"x":{"field":"t","type":"quantitative"},"y":{"field":"val","type":"quantitative"}}},
{"data":{"values":[{"t":51.8,"v":21.5,"s":"Mean: -0.04m  RMS: 3.50m"}]},"mark":"text","encoding":{"x":{"field":"t","type":"quantitative"},"y":{"field":"v","type":"quantitative"},"text":{"field":"s"}}}
]},
{"width":290,"height":44,"data":{"name":"g1"},"layer":[
{"transform":[{"fold":["c","C"],"as":["k","val"]}],"mark":{"type":"line","color":"#0a72c4"},"encoding":{"x":{"field":"t","type":"quantitative","scale":{"domain":[12,86.4],"nice":false},"axis":{"values":[12,22,32,42,52,62,72,82],"title":"Local Time [hh:mm]","labelExpr":"(datum.value < 60 ? '11' : '12') + ':' + (datum.value % 60 < 10 ? '0' : '') + (datum.value % 60)"}},"y":{"field":"val","type":"quantitative","scale":{"domain":[-25,25],"nice":false},"axis":{"values":[-20,-10,0,10,20],"title":"Height [m]"}},"detail":{"field":"k"}}},
{"transform":[{"fold":["c","C"],"as":["k","val"]}],"mark":{"type":"point","color":"#0a72c4"},"encoding":{"x":{"field":"t","type":"quantitative"},"y":{"field":"val","type":"quantitative"}}},
{"data":{"values":[{"t":51.8,"v":21,"s":"Mean: -2.71m  RMS: 12.21m"}]},"mark":"text","encoding":{"x":{"field":"t","type":"quantitative"},"y":{"field":"v","type":"quantitative"},"text":{"field":"s"}}}
]}
]},
{"spacing":14,"vconcat":[
{"spacing":8,"vconcat":[
{"spacing":4.5,"vconcat":[
{"title":"GPS Only Single Point Code Only - GREEN 1st Antenna Coordinate Differences from CCIT E1 ITRF","width":290,"height":44,"data":{"name":"g2"},"layer":[
{"transform":[{"fold":["a","A"],"as":["k","val"]}],"mark":{"type":"line","color":"#1c9a1c"},"encoding":{"x":{"field":"t","type":"quantitative","scale":{"domain":[28.3,86.6],"nice":false},"axis":{"values":[28,38,48,58,68,78],"labels":false,"title":null}},"y":{"field":"val","type":"quantitative","scale":{"domain":[-25,25],"nice":false},"axis":{"values":[-20,-10,0,10,20],"title":"Latitude [m]"}},"detail":{"field":"k"}}},
{"transform":[{"fold":["a","A"],"as":["k","val"]}],"mark":{"type":"point","color":"#1c9a1c"},"encoding":{"x":{"field":"t","type":"quantitative"},"y":{"field":"val","type":"quantitative"}}},
{"data":{"values":[{"t":58.2,"v":-20.5,"s":"Mean: 1.55m  RMS: 4.49m"}]},"mark":"text","encoding":{"x":{"field":"t","type":"quantitative"},"y":{"field":"v","type":"quantitative"},"text":{"field":"s"}}}
]},
{"width":290,"height":44,"data":{"name":"g2"},"layer":[
{"transform":[{"fold":["b","B"],"as":["k","val"]}],"mark":{"type":"line","color":"#1c9a1c"},"encoding":{"x":{"field":"t","type":"quantitative","scale":{"domain":[28.3,86.6],"nice":false},"axis":{"values":[28,38,48,58,68,78],"labels":false,"title":null}},"y":{"field":"val","type":"quantitative","scale":{"domain":[-25,25],"nice":false},"axis":{"values":[-20,-10,0,10,20],"title":"Longitude [m]"}},"detail":{"field":"k"}}},
{"transform":[{"fold":["b","B"],"as":["k","val"]}],"mark":{"type":"point","color":"#1c9a1c"},"encoding":{"x":{"field":"t","type":"quantitative"},"y":{"field":"val","type":"quantitative"}}},
{"data":{"values":[{"t":58.2,"v":-20.5,"s":"Mean: -0.04m  RMS: 2.98m"}]},"mark":"text","encoding":{"x":{"field":"t","type":"quantitative"},"y":{"field":"v","type":"quantitative"},"text":{"field":"s"}}}
]},
{"width":290,"height":44,"data":{"name":"g2"},"layer":[
{"transform":[{"fold":["c","C"],"as":["k","val"]}],"mark":{"type":"line","color":"#1c9a1c"},"encoding":{"x":{"field":"t","type":"quantitative","scale":{"domain":[28.3,86.6],"nice":false},"axis":{"values":[28,38,48,58,68,78],"title":"Local Time [hh:mm]","labelExpr":"(datum.value < 60 ? '11' : '12') + ':' + (datum.value % 60 < 10 ? '0' : '') + (datum.value % 60)"}},"y":{"field":"val","type":"quantitative","scale":{"domain":[-25,25],"nice":false},"axis":{"values":[-20,-10,0,10,20],"title":"Height [m]"}},"detail":{"field":"k"}}},
{"transform":[{"fold":["c","C"],"as":["k","val"]}],"mark":{"type":"point","color":"#1c9a1c"},"encoding":{"x":{"field":"t","type":"quantitative"},"y":{"field":"val","type":"quantitative"}}},
{"data":{"values":[{"t":58.2,"v":-21,"s":"Mean: -1.04m  RMS: 10.08m"}]},"mark":"text","encoding":{"x":{"field":"t","type":"quantitative"},"y":{"field":"v","type":"quantitative"},"text":{"field":"s"}}}
]}
]},
{"width":290,"height":7,"view":{"stroke":null},"data":{"values":[{"s":"(a)"}]},"mark":{"type":"text","align":"center","fontSize":7,"fontWeight":"bold"},"encoding":{"text":{"field":"s"}}}
]},
{"spacing":4.5,"vconcat":[
{"title":"Galileo Only Single Point Code Only - BLUE 1st Antenna Coordinate Differences from CCIT E1 ITRF","width":290,"height":44,"data":{"name":"g3"},"layer":[
{"transform":[{"fold":["a","A"],"as":["k","val"]}],"mark":{"type":"line","color":"#0a72c4"},"encoding":{"x":{"field":"t","type":"quantitative","scale":{"domain":[11.4,87.1],"nice":false},"axis":{"values":[12,22,32,42,52,62,72,82],"labels":false,"title":null}},"y":{"field":"val","type":"quantitative","scale":{"domain":[-25,25],"nice":false},"axis":{"values":[-20,-10,0,10,20],"title":"Latitude [m]"}},"detail":{"field":"k"}}},
{"transform":[{"fold":["a","A"],"as":["k","val"]}],"mark":{"type":"point","color":"#0a72c4"},"encoding":{"x":{"field":"t","type":"quantitative"},"y":{"field":"val","type":"quantitative"}}},
{"data":{"values":[{"t":15.9,"v":21,"s":"Mean: 1.46m  RMS: 6.58m"}]},"mark":"text","encoding":{"x":{"field":"t","type":"quantitative"},"y":{"field":"v","type":"quantitative"},"text":{"field":"s"}}}
]},
{"width":290,"height":44,"data":{"name":"g3"},"layer":[
{"transform":[{"fold":["b","B"],"as":["k","val"]}],"mark":{"type":"line","color":"#0a72c4"},"encoding":{"x":{"field":"t","type":"quantitative","scale":{"domain":[11.4,87.1],"nice":false},"axis":{"values":[12,22,32,42,52,62,72,82],"labels":false,"title":null}},"y":{"field":"val","type":"quantitative","scale":{"domain":[-25,25],"nice":false},"axis":{"values":[-20,-10,0,10,20],"title":"Longitude [m]"}},"detail":{"field":"k"}}},
{"transform":[{"fold":["b","B"],"as":["k","val"]}],"mark":{"type":"point","color":"#0a72c4"},"encoding":{"x":{"field":"t","type":"quantitative"},"y":{"field":"val","type":"quantitative"}}},
{"data":{"values":[{"t":15.9,"v":21,"s":"Mean: 0.26m  RMS: 2.43m"}]},"mark":"text","encoding":{"x":{"field":"t","type":"quantitative"},"y":{"field":"v","type":"quantitative"},"text":{"field":"s"}}}
]},
{"width":290,"height":44,"data":{"name":"g3"},"layer":[
{"transform":[{"fold":["c","C"],"as":["k","val"]}],"mark":{"type":"line","color":"#0a72c4"},"encoding":{"x":{"field":"t","type":"quantitative","scale":{"domain":[11.4,87.1],"nice":false},"axis":{"values":[12,22,32,42,52,62,72,82],"title":"Local Time [hh:mm]","labelExpr":"(datum.value < 60 ? '11' : '12') + ':' + (datum.value % 60 < 10 ? '0' : '') + (datum.value % 60)"}},"y":{"field":"val","type":"quantitative","scale":{"domain":[-25,25],"nice":false},"axis":{"values":[-20,-10,0,10,20],"title":"Height [m]"}},"detail":{"field":"k"}}},
{"transform":[{"fold":["c","C"],"as":["k","val"]}],"mark":{"type":"point","color":"#0a72c4"},"encoding":{"x":{"field":"t","type":"quantitative"},"y":{"field":"val","type":"quantitative"}}},
{"data":{"values":[{"t":15.9,"v":21,"s":"Mean: -0.09m  RMS: 8.39m"}]},"mark":"text","encoding":{"x":{"field":"t","type":"quantitative"},"y":{"field":"v","type":"quantitative"},"text":{"field":"s"}}}
]}
]}
]}
]
}
